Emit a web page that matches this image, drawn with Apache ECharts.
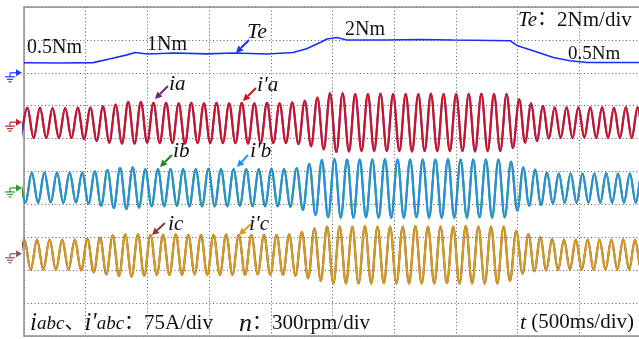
<!DOCTYPE html>
<html>
<head>
<meta charset="utf-8">
<script src="https://cdn.jsdelivr.net/npm/echarts/dist/echarts.min.js"></script>
<style>
  html, body { margin: 0; padding: 0; background: #fff; }
  #chart { width: 639px; height: 339px; }
</style>
</head>
<body>
<div id="chart"></div>
<script>
// 示波器截图: Te (2Nm/div) 与三相电流 ia/i'a, ib/i'b, ic/i'c (75A/div), t 500ms/div

// 转矩 Te 折线 (ms, Nm)
const teTime = [0, 300, 560, 700, 835, 900, 1000, 1220, 1480, 1700, 1970, 2180, 2290, 2400, 2455, 2535, 2615, 2940, 3210, 3480, 3940, 4000, 4125, 4290, 4425, 4560, 4830, 5000];
const teVal  = [0.61, 0.60, 0.62, 0.85, 1.09, 1.23, 1.14, 1.20, 1.15, 1.20, 1.14, 1.23, 1.46, 1.84, 2.05, 2.15, 1.99, 1.99, 2.02, 1.99, 1.95, 1.64, 1.34, 0.93, 0.73, 0.63, 0.63, 0.63];

// 电流波形: 每个半周期的峰/谷值 (A), 依次读取
const phaseA = [
  -36, 33, -36, 33, -36, 32, -36, 32, -36, 33,
  -39, 33, -43, 36, -47, 40, -49, 46, -49, 46, -47, 44,
  -48, 44, -48, 43, -49, 44, -48, 43, -48, 44, -48, 43, -48, 44, -49, 43, -48, 44, -48, 43, -48,
  45, -50, 49, -55, 56, -62, 66, -68, 66,
  -67, 64, -66, 64, -66, 65, -66, 64, -66, 64, -67, 64, -66, 65, -66, 64, -66, 64, -66, 64, -67, 65, -66, 64, -66,
  64, -59, 52, -47, 43, -43, 37, -37, 34, -36,
  34, -36, 34, -35, 34, -36, 34, -36, 33, -36, 34, -36, 34, -35, 34, -36
];
const phaseB = [
  35, -33, 35, -34, 35, -33, 35, -34, 35, -33,
  35, -36, 38, -41, 41, -46, 46, -48, 47, -45, 43,
  -42, 43, -42, 43, -41, 43, -42, 43, -42, 44, -42, 43, -42, 43, -41, 43, -42, 43, -42, 44, -42, 43,
  -43, 45, -50, 55, -62, 64, -67, 66,
  -68, 65, -68, 65, -67, 65, -68, 66, -68, 65, -68, 65, -67, 65, -68, 65, -68, 66, -68, 65, -68, 65, -67, 65, -68, 65,
  -67, 60, -52, 47, -41, 42, -39, 35, -36, 33,
  -34, 33, -34, 33, -34, 33, -34, 34, -34, 33, -34, 33, -34, 33, -34, 33
];
const phaseC = [
  -36, 32, -37, 32, -36, 32, -37, 32, -36, 32,
  -38, 34, -42, 37, -47, 42, -51, 44, -52, 44, -50,
  43, -48, 43, -48, 44, -48, 43, -47, 43, -48, 43, -48, 44, -48, 43, -48, 43, -47, 43, -48, 43, -48,
  44, -50, 50, -56, 58, -62, 62, -68,
  62, -68, 62, -68, 63, -68, 62, -67, 62, -68, 62, -68, 63, -68, 62, -68, 62, -67, 62, -68, 63, -68, 62, -68, 62, -68,
  62, -62, 52, -45, 45, -40, 38, -38, 34, -37,
  32, -36, 32, -36, 32, -37, 32, -36, 32, -36, 33, -36, 32, -36, 32, -36
];

// 时基: 第一个极值时刻 (ms) 与半周期 (ms); 减载后转速升高, 半周期变短
const startA = -24, startB = -39, startC = -48;
const halfSlow = 51.1, halfFast = 48, speedUpAt = 3990;

function waveData(t0, vals) {
  const out = [];
  let t = t0;
  vals.forEach(v => {
    out.push([t, v]);
    t += t < speedUpAt ? halfSlow : halfFast;
  });
  return out;
}

const chart = echarts.init(document.getElementById('chart'));
const serif = '"Liberation Serif", "Times New Roman", "Noto Sans CJK SC", serif';

const base = {
  type: 'line', xAxisIndex: 0, showSymbol: false, symbol: 'none',
  smooth: 0.36, smoothMonotone: 'x', animation: false, silent: true
};
const dA = waveData(startA, phaseA);
const dB = waveData(startB, phaseB);
const dC = waveData(startC, phaseC);

const hiddenY = (min, max) => ({ type: 'value', min, max, show: false, splitLine: { show: false } });
const dotted = { color: '#5e5e5e', width: 1, type: [1, 2.5] };
const frame = { show: true, onZero: false, lineStyle: { color: '#8e8e8e', width: 1.5 } };

chart.setOption({
  animation: false,
  grid: { left: 24, width: 617, top: 7, bottom: 3, outerBoundsMode: 'none', containLabel: false },
  xAxis: [
    {
      type: 'value', min: 0, max: 5000, interval: 500,
      axisLabel: { show: false }, axisTick: { show: false }, axisLine: frame,
      splitLine: { show: true, lineStyle: dotted }
    },
    {
      type: 'value', position: 'top', min: 0, max: 5000,
      axisLabel: { show: false }, axisTick: { show: false }, axisLine: frame,
      splitLine: { show: false }
    }
  ],
  yAxis: [
    {
      type: 'value', min: 0, max: 10, interval: 1,
      axisLabel: { show: false }, axisTick: { show: false }, axisLine: frame,
      splitLine: { show: true, lineStyle: dotted }
    },
    hiddenY(-16, 4),        // Te: 2Nm/div, 零点在第8格
    hiddenY(-487.5, 262.5), // a: 75A/div, 零点 6.5 格
    hiddenY(-337.5, 412.5), // b: 零点 4.5 格
    hiddenY(-187.5, 562.5)  // c: 零点 2.5 格
  ],
  series: [
    { ...base, name: 'Te', yAxisIndex: 1, smooth: false, data: teTime.map((t, i) => [t, teVal[i]]),
      lineStyle: { color: '#1530ff', width: 1.6 } },
    { ...base, name: 'ia', yAxisIndex: 2, data: dA, lineStyle: { color: '#7b2d8e', width: 2.2 } },
    { ...base, name: "i'a", yAxisIndex: 2, data: dA, lineStyle: { color: '#cc1424', width: 2.0 } },
    { ...base, name: 'ib', yAxisIndex: 3, data: dB, lineStyle: { color: '#1f9a32', width: 2.2 } },
    { ...base, name: "i'b", yAxisIndex: 3, data: dB, lineStyle: { color: '#2a8ee8', width: 2.0 } },
    { ...base, name: 'ic', yAxisIndex: 4, data: dC, lineStyle: { color: '#8a4a3a', width: 2.2 } },
    { ...base, name: "i'c", yAxisIndex: 4, data: dC, lineStyle: { color: '#d49e1e', width: 2.0 } }
  ]
});

// 注释文字与箭头
function txt(x, baseline, text, size, opts) {
  opts = opts || {};
  return {
    type: 'text', x: x, y: baseline - size * 0.34, z: 50,
    style: {
      text: text, fill: '#111',
      font: (opts.italic ? 'italic ' : '') + size + 'px ' + serif,
      rich: opts.rich, align: 'left', verticalAlign: 'middle',
      textAlign: 'left', textVerticalAlign: 'middle'
    }
  };
}
function arrow(x1, y1, x2, y2, color) {
  const ang = Math.atan2(y2 - y1, x2 - x1), L = 7, W = 3.6;
  const bx = x2 - L * Math.cos(ang), by = y2 - L * Math.sin(ang);
  const px = -Math.sin(ang) * W, py = Math.cos(ang) * W;
  return [
    { type: 'line', z: 50, shape: { x1: x1, y1: y1, x2: bx, y2: by }, style: { stroke: color, lineWidth: 2 } },
    { type: 'polygon', z: 50, shape: { points: [[x2, y2], [bx + px, by + py], [bx - px, by - py]] }, style: { fill: color } }
  ];
}
function ground(gy, color) {
  const s = { stroke: color, lineWidth: 1.2 };
  return [
    { type: 'polygon', z: 50, shape: { points: [[16, gy - 3.5], [22, gy], [16, gy + 3.5]] }, style: { fill: color } },
    { type: 'line', z: 50, shape: { x1: 10, y1: gy, x2: 17, y2: gy }, style: s },
    { type: 'line', z: 50, shape: { x1: 10, y1: gy, x2: 10, y2: gy + 4 }, style: s },
    { type: 'line', z: 50, shape: { x1: 5, y1: gy + 4, x2: 15, y2: gy + 4 }, style: s },
    { type: 'line', z: 50, shape: { x1: 7, y1: gy + 6.5, x2: 13, y2: gy + 6.5 }, style: s },
    { type: 'line', z: 50, shape: { x1: 8.5, y1: gy + 9, x2: 11.5, y2: gy + 9 }, style: s }
  ];
}

const it = (s) => ({ font: 'italic ' + s + 'px ' + serif, fill: '#111' });
const rm = (s) => ({ font: s + 'px ' + serif, fill: '#111' });
const sub = { I: it(22), s: it(21) };

const gTe = chart.convertToPixel({ yAxisIndex: 1 }, 0);
const gA = chart.convertToPixel({ yAxisIndex: 2 }, 0);
const gB = chart.convertToPixel({ yAxisIndex: 3 }, 0);
const gC = chart.convertToPixel({ yAxisIndex: 4 }, 0);

const graphics = [].concat(
  ground(gTe, '#1a3cff'), ground(gA, '#c81e28'), ground(gB, '#2a9a2a'), ground(gC, '#8b5a5a'),
  [
    txt(27, 55, '0.5Nm', 20),
    txt(147, 51.5, '1Nm', 20),
    txt(345, 37, '2Nm', 20),
    txt(247, 40, 'Te', 22, { italic: true }),
    txt(518, 27, '{I|Te}{c|：}{r|2Nm/div}', 20, { rich: { I: it(21), c: rm(20), r: rm(21) } }),
    txt(568, 60, '0.5Nm', 19),
    txt(169, 92, '{I|i}{s|a}', 22, { rich: sub }),
    txt(257, 92.5, "{I|i'}{s|a}", 22, { rich: sub }),
    txt(173, 159, '{I|i}{s|b}', 22, { rich: sub }),
    txt(250, 159, "{I|i'}{s|b}", 22, { rich: sub }),
    txt(168, 232, '{I|i}{s|c}', 22, { rich: sub }),
    txt(249, 232, "{I|i'}{s|c}", 22, { rich: sub }),
    txt(30, 331, "{I|i}{s|abc}{c|、}{I|i'}{s|abc}{c|：}{r|75A/div}", 21,
      { rich: { I: it(25), s: it(19), c: rm(20), r: rm(21) } }),
    txt(239, 331, '{I|n}{c|：}', 21, { rich: { I: it(26), c: rm(20) } }),
    txt(272, 331, '300rpm/div', 21),
    txt(520, 330, '{I|t}{r| (500ms/div)}', 21, { rich: { I: it(22), r: rm(21) } })
  ],
  arrow(249, 40, 236, 53, '#1530ff'),
  arrow(168, 86, 155, 99, '#7b1f7f'),
  arrow(256, 88, 243, 101, '#d0141e'),
  arrow(172, 155, 160, 167, '#1a8c1a'),
  arrow(248, 155, 237, 167, '#1a90ff'),
  arrow(165, 223, 152, 235, '#8b3a3a'),
  arrow(251, 224, 239, 235, '#d4a017')
);

chart.setOption({ graphic: graphics });
</script>
</body>
</html>
